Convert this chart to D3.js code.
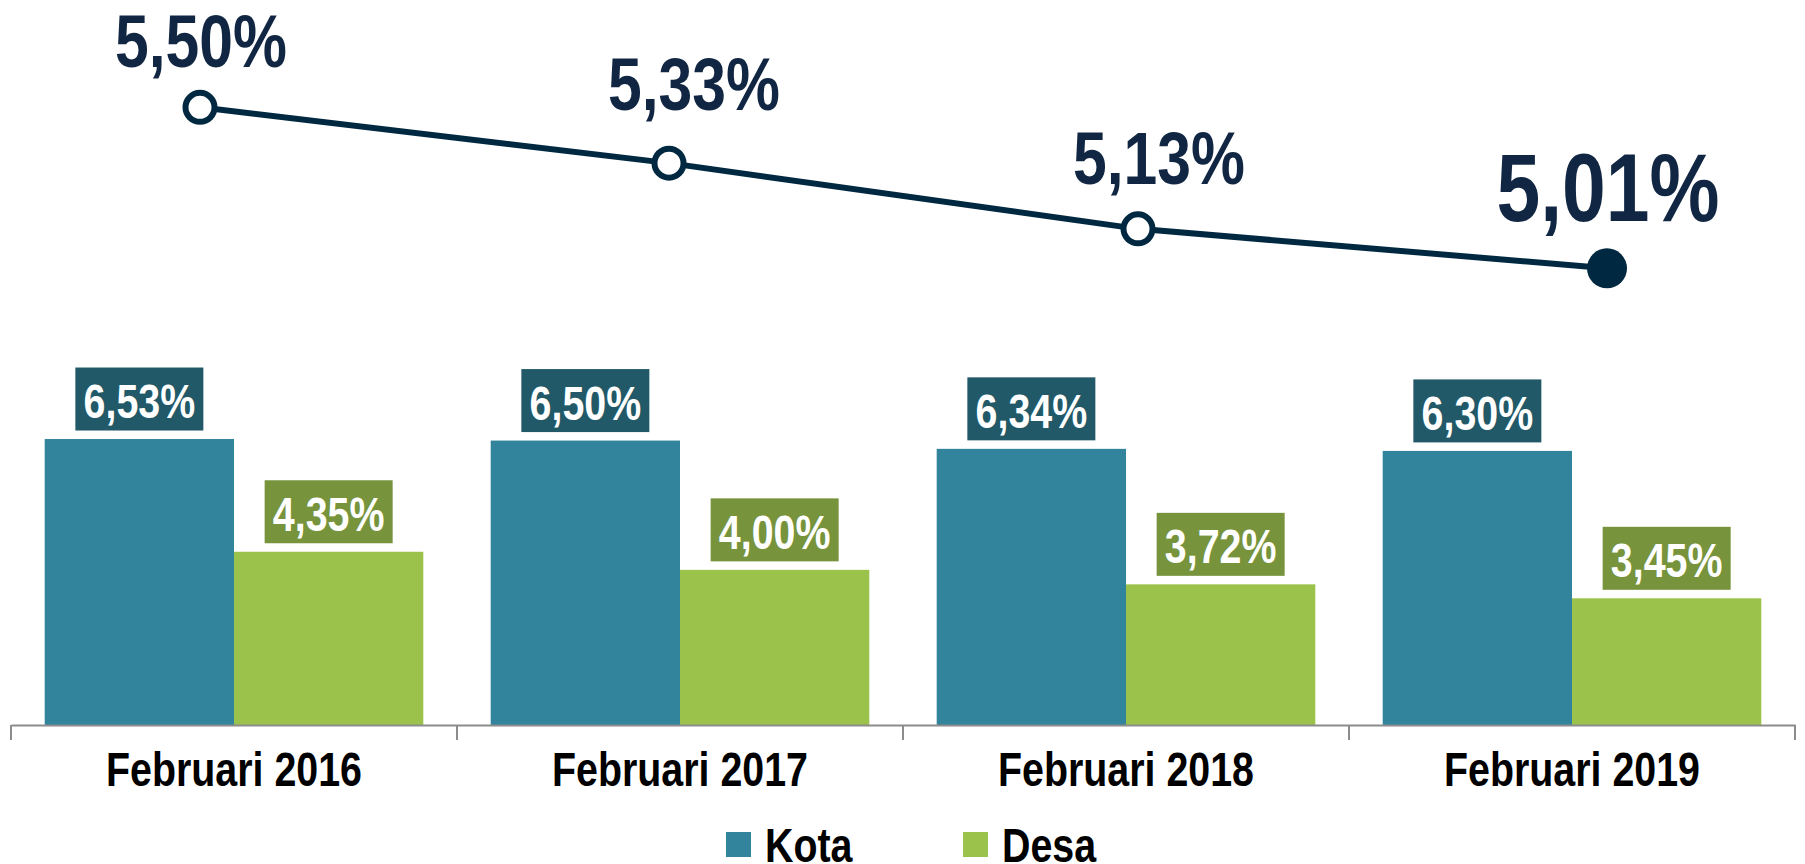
<!DOCTYPE html>
<html>
<head>
<meta charset="utf-8">
<script src="https://cdn.jsdelivr.net/npm/d3@7"></script>
<style>
  body { margin: 0; background: #fff; }
  text { font-family: "Liberation Sans", Arial, sans-serif; font-weight: bold; }
</style>
</head>
<body>
<svg width="1805" height="864"></svg>
<script>
const width = 1805;
const height = 864;

// data
const categories = ["Februari 2016", "Februari 2017", "Februari 2018", "Februari 2019"];
const series = ["Kota", "Desa"];
const kota = [6.53, 6.50, 6.34, 6.30];
const desa = [4.35, 4.00, 3.72, 3.45];
const total = [5.50, 5.33, 5.13, 5.01];

// label nudges for the line (as placed in the original)
const lineLabelDx = [1, 25, 21, 1];
const lineLabelDy = [-40, -53, -45, -47];

const colors = { Kota: "#31849b", Desa: "#9bc34b" };
const boxColors = { Kota: "#215968", Desa: "#77933c" };
const fmt = v => v.toFixed(2).replace(".", ",") + "%";
// no narrow font installed: squeeze the regular one
const narrow = (px, py) => `translate(${px},${py}) scale(0.82,1)`;

const svg = d3.select("svg");

const x = d3.scaleBand()
    .domain(categories)
    .range([11, 1795]);

const xInner = d3.scaleBand()
    .domain(series)
    .range([33.7, 412.3]);

const y = d3.scaleLinear()
    .domain([1, 8])
    .range([725, 363]);

// the line sits on its own secondary axes
const xLine = d3.scalePoint()
    .domain(categories)
    .range([200, 1607]);

const yLine = d3.scaleLinear()
    .domain([4.5, 5.6])
    .range([435.9, 74.4]);

const rows = categories.map((c, i) => ({ cat: c, Kota: kota[i], Desa: desa[i] }));

// bars
const group = svg.append("g")
  .selectAll("g")
  .data(rows)
  .join("g")
    .attr("transform", d => `translate(${x(d.cat)},0)`);

group.selectAll("rect")
  .data(d => series.map(s => ({ key: s, value: d[s] })))
  .join("rect")
    .attr("x", d => xInner(d.key))
    .attr("y", d => y(d.value))
    .attr("width", xInner.bandwidth())
    .attr("height", d => y(1) - y(d.value))
    .attr("fill", d => colors[d.key]);

// bar labels in boxes
const lab = group.selectAll("g.lab")
  .data(d => series.map(s => ({ key: s, value: d[s] })))
  .join("g")
    .attr("class", "lab")
    .attr("transform", d => `translate(${xInner(d.key) + xInner.bandwidth() / 2},${y(d.value) - 8.5})`);

lab.append("rect")
    .attr("x", -64)
    .attr("y", -63)
    .attr("width", 128)
    .attr("height", 63)
    .attr("fill", d => boxColors[d.key]);

lab.append("text")
    .attr("text-anchor", "middle")
    .attr("transform", narrow(0, -12.5))
    .attr("fill", "#fff")
    .attr("font-size", 48)
    .text(d => fmt(d.value));

// x axis
const xAxis = svg.append("g")
    .attr("transform", `translate(0,${y(1)})`)
    .call(d3.axisBottom(x).tickSize(0).tickFormat(""));
xAxis.select(".domain").attr("stroke", "#8c8c8c").attr("stroke-width", 2);

svg.append("g")
    .attr("stroke", "#8c8c8c")
    .attr("stroke-width", 2)
  .selectAll("line")
  .data(categories.concat(["end"]))
  .join("line")
    .attr("x1", (d, i) => x.range()[0] + i * x.step())
    .attr("x2", (d, i) => x.range()[0] + i * x.step())
    .attr("y1", y(1))
    .attr("y2", y(1) + 15);

svg.append("g")
  .selectAll("text")
  .data(categories)
  .join("text")
    .attr("transform", d => narrow(x(d) + x.bandwidth() / 2, 786))
    .attr("text-anchor", "middle")
    .attr("font-size", 48)
    .attr("fill", "#000")
    .text(d => d);

// line
const pts = categories.map((c, i) => ({ cat: c, value: total[i], i }));

svg.append("path")
    .datum(pts)
    .attr("fill", "none")
    .attr("stroke", "#002840")
    .attr("stroke-width", 6)
    .attr("d", d3.line().x(d => xLine(d.cat)).y(d => yLine(d.value)));

svg.append("g")
  .selectAll("circle")
  .data(pts)
  .join("circle")
    .attr("cx", d => xLine(d.cat))
    .attr("cy", d => yLine(d.value))
    .attr("r", d => d.i === pts.length - 1 ? 20 : 14.5)
    .attr("fill", d => d.i === pts.length - 1 ? "#002840" : "#fff")
    .attr("stroke", "#002840")
    .attr("stroke-width", d => d.i === pts.length - 1 ? 0 : 6);

svg.append("g")
  .selectAll("text")
  .data(pts)
  .join("text")
    .attr("transform", d => narrow(xLine(d.cat) + lineLabelDx[d.i], yLine(d.value) + lineLabelDy[d.i]))
    .attr("text-anchor", "middle")
    .attr("font-size", d => d.i === pts.length - 1 ? 96 : 74)
    .attr("fill", "#112642")
    .text(d => fmt(d.value));

// legend
const legend = svg.append("g")
  .selectAll("g")
  .data(series)
  .join("g")
    .attr("transform", (d, i) => `translate(${726 + i * 237},832)`);

legend.append("rect")
    .attr("width", 25)
    .attr("height", 25)
    .attr("fill", d => colors[d]);

legend.append("text")
    .attr("transform", narrow(39, 30))
    .attr("font-size", 48)
    .attr("fill", "#000")
    .text(d => d);
</script>
</body>
</html>
